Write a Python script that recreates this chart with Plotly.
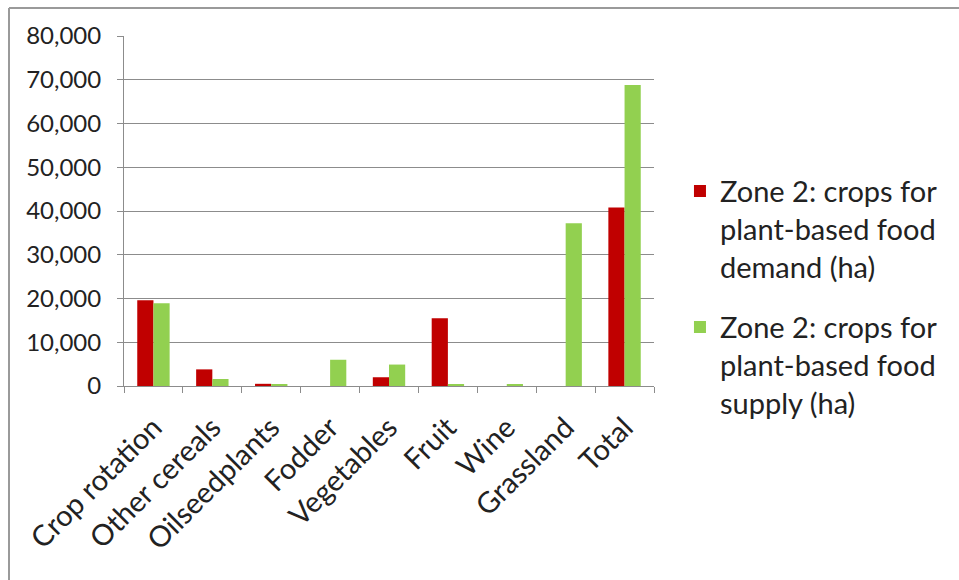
import plotly.graph_objects as go

# Land use by crop category (hectares)
categories = ["Crop rotation", "Other cereals", "Oilseedplants", "Fodder",
              "Vegetables", "Fruit", "Wine", "Grassland", "Total"]
demand_ha = [19600, 3800, 500, 0, 2000, 15500, 0, 0, 40800]
supply_ha = [18900, 1600, 300, 6000, 4900, 300, 300, 37200, 68800]

demand_name = "Zone 2: crops for<br>plant-based food<br>demand (ha)"
supply_name = "Zone 2: crops for<br>plant-based food<br>supply (ha)"

font_family = "Lato, Open Sans, sans-serif"
grid_col = "#8c8c8c"

fig = go.Figure()
fig.add_trace(go.Bar(x=categories, y=demand_ha, name=demand_name,
                     legendgroup="demand",
                     marker=dict(color="#C00000", line=dict(width=0))))
fig.add_trace(go.Bar(x=categories, y=supply_ha, name=supply_name,
                     legendgroup="supply",
                     marker=dict(color="#92D050", line=dict(width=0))))

fig.update_layout(
    width=959, height=580,
    margin=dict(l=124, r=305, t=36, b=194),
    paper_bgcolor="white", plot_bgcolor="white",
    barmode="group", bargap=0.45, bargroupgap=0,
    font=dict(family=font_family, color="#222222"),
    legend=dict(x=1.049, y=0.254, xanchor="left", yanchor="middle",
                font=dict(size=29, family=font_family),
                valign="top", tracegroupgap=20, itemwidth=30),
    showlegend=True,
)

fig.update_xaxes(
    tickangle=-45, tickfont=dict(size=29), ticklabelstandoff=12,
    showline=True, linecolor=grid_col, linewidth=1,
    ticks="outside", ticklen=6, tickcolor=grid_col, tickson="boundaries",
    showgrid=False,
)
fig.update_yaxes(
    range=[0, 80000], dtick=10000, tickformat=",d",
    tickfont=dict(size=24), ticklabelstandoff=11,
    showgrid=True, gridcolor=grid_col, gridwidth=1,
    showline=True, linecolor=grid_col, linewidth=1,
    ticks="outside", ticklen=6, tickcolor=grid_col,
    zeroline=False,
)

# Frame around the chart (top and left edges)
frame_x = -115 / 530
frame_top = (580 - 194 - 8) / 350
fig.add_shape(type="line", xref="paper", yref="paper",
              x0=frame_x, x1=1.6, y0=frame_top, y1=frame_top,
              line=dict(color="#9a9a9a", width=2))
fig.add_shape(type="line", xref="paper", yref="paper",
              x0=frame_x, x1=frame_x, y0=-1.0, y1=frame_top,
              line=dict(color="#9a9a9a", width=2))

fig.write_html("out.html")
